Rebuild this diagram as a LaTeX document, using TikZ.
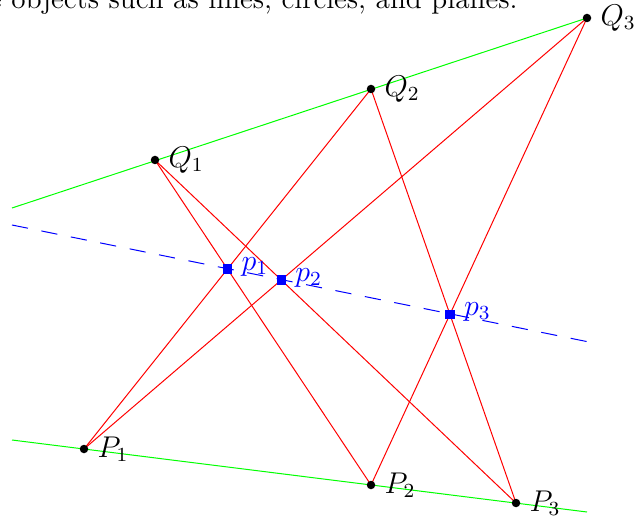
\documentclass[tikz,border=0pt]{standalone}
\begin{document}
\begin{tikzpicture}[x={(0.4pt,0)},y={(0,-0.4pt)},
  every node/.style={font=\fontsize{11.7pt}{14pt}\selectfont},
  every label/.style={font=\fontsize{11.7pt}{14pt}\selectfont},
  redline/.style={red,line width=0.4pt},
  greenline/.style={green,line width=0.4pt},
  blueline/.style={blue,line width=0.4pt,dash pattern=on 6.5pt off 5.5pt},
  dot/.style={circle,fill=black,inner sep=0pt,minimum size=3.4pt,label distance=-1.3pt},
  sq/.style={rectangle,fill=blue,inner sep=0pt,minimum size=3.8pt,label distance=-2.3pt},
  blab/.style={text=blue,yshift=1pt}]
\useasboundingbox (0,0) rectangle (638,518);
\clip (0,0) rectangle (638,518);
\node[anchor=base east,inner sep=0pt] (txt) at (518,9) {e objects such as lines, circles, and planes.};
% points
\coordinate (q1) at (155,160);
\coordinate (q2) at (371,89);
\coordinate (q3) at (587,18);
\coordinate (pp1) at (84,449);
\coordinate (pp2) at (371,485);
\coordinate (pp3) at (516,503);
\coordinate (ga) at (12,208);
\coordinate (gb) at (12,440);
\coordinate (gc) at (587,512);
\coordinate (ba) at (12,225);
\coordinate (bb) at (589,342);
% lines
\draw[greenline] (ga) -- (q3);
\draw[greenline] (gb) -- (gc);
\draw[blueline] (ba) -- (bb);
\draw[redline] (q1) -- (pp2);
\draw[redline] (q1) -- (pp3);
\draw[redline] (q2) -- (pp1);
\draw[redline] (q2) -- (pp3);
\draw[redline] (q3) -- (pp1);
\draw[redline] (q3) -- (pp2);
% intersections
\coordinate (i1) at (intersection of q1--pp2 and q2--pp1);
\coordinate (i2) at (intersection of q1--pp3 and q3--pp1);
\coordinate (i3) at (intersection of q2--pp3 and q3--pp2);
% dots
\node[dot,label=right:{$Q_1$}] (Q1) at (q1) {};
\node[dot,label=right:{$Q_2$}] (Q2) at (q2) {};
\node[dot,label=right:{$Q_3$}] (Q3) at (q3) {};
\node[dot,label=right:{$P_1$}] (P1) at (pp1) {};
\node[dot,label=right:{$P_2$}] (P2) at (pp2) {};
\node[dot,label=right:{$P_3$}] (P3) at (pp3) {};
\node[sq,label={[blab]right:{$p_1$}}] (p1) at (i1) {};
\node[sq,label={[blab]right:{$p_2$}}] (p2) at (i2) {};
\node[sq,label={[blab]right:{$p_3$}}] (p3) at (i3) {};
\end{tikzpicture}
\end{document}
